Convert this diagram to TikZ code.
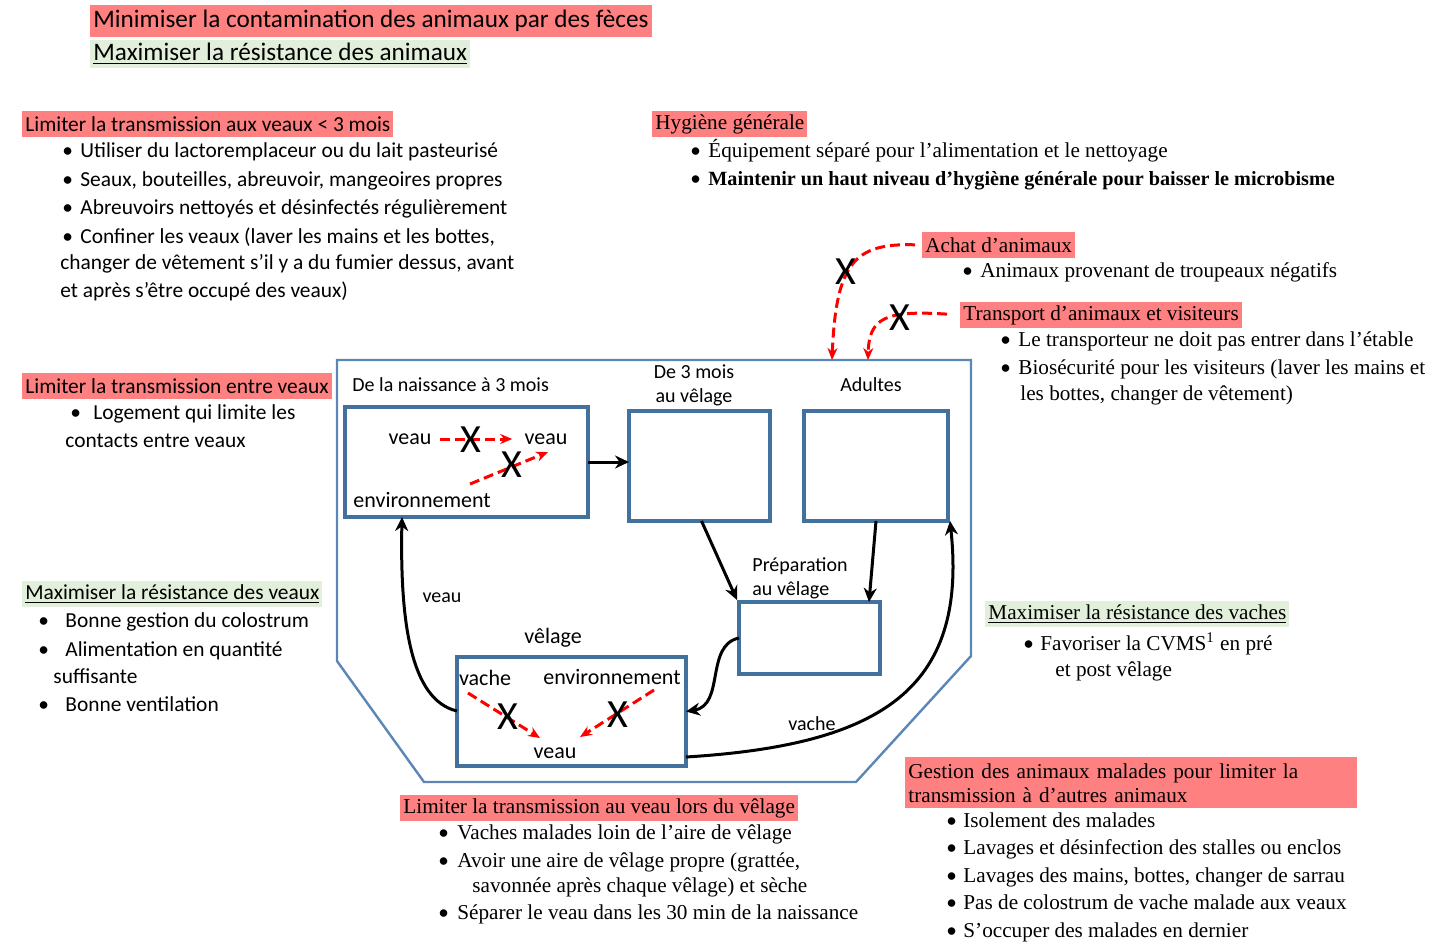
\documentclass[tikz,border=0pt]{standalone}
\usepackage{fontspec}
\setmainfont{Carlito}
\newfontfamily\tms{Liberation Serif}
\usetikzlibrary{positioning, arrows.meta, calc}

\definecolor{hlred}{HTML}{FF8080}
\definecolor{hlgreen}{HTML}{E2EFDA}
\definecolor{stallblue}{HTML}{41719C}
\definecolor{farmblue}{HTML}{5B86B5}

\newcommand\sanstext{\fontsize{10.7}{13}\selectfont}
\newcommand\seriftext{\tms\fontsize{10.6}{13}\selectfont}
\newcommand\bulletto[1]{\makebox[#1][l]{\rmfamily\textbullet}}

\begin{document}
\begin{tikzpicture}[
    x=0.5pt, y=-0.5pt,
    redtitle/.style={rectangle, fill=hlred, anchor=west, inner xsep=1.5pt, inner ysep=0pt, minimum height=13pt},
    greentitle/.style={rectangle, fill=hlgreen, anchor=west, inner xsep=1.5pt, inner ysep=0pt, minimum height=13pt},
    item/.style={anchor=base west, inner sep=0pt, font=\sanstext},
    sitem/.style={anchor=base west, inner sep=0pt, font=\seriftext},
    stall/.style={rectangle, draw=stallblue, line width=2pt, anchor=north west, inner sep=0pt, outer sep=0pt},
    lbl/.style={inner sep=1pt, font=\fontsize{10}{12}\selectfont},
    inlbl/.style={inner sep=1pt, font=\fontsize{11}{13}\selectfont},
    cross/.style={inner sep=0pt, font=\fontsize{20}{20}\selectfont},
    arr/.style={-{Stealth[length=7pt, width=6.5pt]}, line width=1.5pt, draw=black},
    redarr/.style={-{Stealth[length=6pt, width=5pt]}, line width=1.5pt, draw=red, dash pattern=on 5pt off 2.5pt}
]
    \useasboundingbox (0,0) rectangle (1434,943);

    % en-tete
    \node[redtitle, font=\fontsize{12.6}{14}\selectfont, minimum height=16pt] (contam) at (90,21) {Minimiser la contamination des animaux par des fèces};
    \node[greentitle, font=\fontsize{12.6}{14}\selectfont, minimum height=14pt] (resist) at (90,54) {\underline{Maximiser la résistance des animaux}};

    % veaux < 3 mois
    \node[redtitle, font=\sanstext] (lim3) at (22,124) {Limiter la transmission aux veaux < 3 mois};
    \foreach \txt [count=\i] in {Utiliser du lactoremplaceur ou du lait pasteurisé, {Seaux, bouteilles, abreuvoir, mangeoires propres}, Abreuvoirs nettoyés et désinfectés régulièrement, {Confiner les veaux (laver les mains et les bottes,}}
        \node[item] (lim3-\i) at (62,128.7+28.7*\i) {\bulletto{9pt}\txt};
    \node[item] (lim3-5) at (60,269) {changer de vêtement s'il y a du fumier dessus, avant};
    \node[item] (lim3-6) at (60,297) {et après s'être occupé des veaux)};

    % entre veaux
    \node[redtitle, font=\sanstext] (limv) at (22,386) {Limiter la transmission entre veaux};
    \node[item] (limv-1) at (70,419) {\bulletto{11.5pt}Logement qui limite les};
    \node[item] (limv-2) at (65,447) {contacts entre veaux};

    % resistance des veaux
    \node[greentitle, font=\sanstext] (resv) at (22,594) {\underline{Maximiser la résistance des veaux}};
    \node[item] (resv-1) at (38,627) {\bulletto{13.5pt}Bonne gestion du colostrum};
    \node[item] (resv-2) at (38,656) {\bulletto{13.5pt}Alimentation en quantité};
    \node[item] (resv-3) at (53,683) {suffisante};
    \node[item] (resv-4) at (38,711) {\bulletto{13.5pt}Bonne ventilation};

    % hygiene
    \node[redtitle, font=\seriftext] (hyg) at (652,124) {Hygiène générale};
    \node[sitem] (hyg-1) at (690,157) {\bulletto{9pt}Équipement séparé pour l’alimentation et le nettoyage};
    \node[sitem] (hyg-2) at (690,185) {\bulletto{9pt}\fontsize{10.1}{13}\selectfont\textbf{Maintenir un haut niveau d’hygiène générale pour baisser le microbisme}};

    % achat
    \node[redtitle, font=\seriftext] (achat) at (922,245) {Achat d’animaux};
    \node[sitem] (achat-1) at (962,277) {\bulletto{9pt}Animaux provenant de troupeaux négatifs};

    % transport
    \node[redtitle, font=\seriftext] (transp) at (960,315) {Transport d’animaux et visiteurs};
    \node[sitem] (transp-1) at (1000,346) {\bulletto{9pt}Le transporteur ne doit pas entrer dans l’étable};
    \node[sitem] (transp-2) at (1000,374) {\bulletto{9pt}Biosécurité pour les visiteurs (laver les mains et};
    \node[sitem] (transp-3) at (1020,400) {les bottes, changer de vêtement)};

    % resistance des vaches
    \node[greentitle, font=\seriftext] (resva) at (985,614) {\underline{Maximiser la résistance des vaches}};
    \node[sitem] (resva-1) at (1023,650) {\bulletto{8.5pt}Favoriser la CVMS\textsuperscript{1} en pré};
    \node[sitem] (resva-2) at (1055,676) {et post vêlage};

    % velage
    \node[redtitle, font=\seriftext] (limvel) at (400,808) {Limiter la transmission au veau lors du vêlage};
    \node[sitem] (limvel-1) at (438,839) {\bulletto{9.5pt}Vaches malades loin de l’aire de vêlage};
    \node[sitem] (limvel-2) at (438,867) {\bulletto{9.5pt}Avoir une aire de vêlage propre (grattée,};
    \node[sitem] (limvel-3) at (472,892) {savonnée après chaque vêlage) et sèche};
    \node[sitem] (limvel-4) at (438,919) {\bulletto{9.5pt}Séparer le veau dans les 30 min de la naissance};

    % malades
    \node[rectangle, fill=hlred, anchor=north west, inner xsep=1.5pt, inner ysep=0pt, text width=223pt, minimum height=25.5pt, align=left, font=\tms\fontsize{10.6}{12}\selectfont] (malad) at (905,757) {Gestion des animaux malades pour limiter la\\transmission à d’autres animaux};
    \foreach \txt [count=\i] in {Isolement des malades, Lavages et désinfection des stalles ou enclos, {Lavages des mains, bottes, changer de sarrau}, Pas de colostrum de vache malade aux veaux, S’occuper des malades en dernier}
        \node[sitem] (malad-\i) at (946,799.5+27.5*\i) {\bulletto{8.5pt}\txt};

    % elevage
    \draw[farmblue, line width=1.2pt] (337,360) -- (971,360) -- (971,656) -- (856,782) -- (424,782) -- (337,661) -- cycle;
    \coordinate (inA) at (832,360);
    \coordinate (inB) at (868,360);

    \node[stall, minimum width=121.5pt, minimum height=55pt] (naiss) at (345,407) {};
    \node[stall, minimum width=70.5pt, minimum height=55pt] (genis) at (629,411) {};
    \node[stall, minimum width=72pt, minimum height=55pt] (adult) at (804,411) {};
    \node[stall, minimum width=70.5pt, minimum height=36pt] (prep) at (739,602) {};
    \node[stall, minimum width=114.5pt, minimum height=54.5pt] (velag) at (457,657) {};

    \node[lbl, anchor=west] (naissL) at (350,385) {De la naissance à 3 mois};
    \node[lbl, align=center] (genisL) at (694,385) {De 3 mois\\au vêlage};
    \node[lbl] (adultL) at (871,385) {Adultes};
    \node[lbl, anchor=west, align=left] (prepL) at (750,578) {Préparation\\au vêlage};
    \node[inlbl] (velagL) at (553,638) {vêlage};

    % dans la case des veaux
    \node[inlbl] (veau1) at (410,439) {veau};
    \node[inlbl] (veau2) at (546,439) {veau};
    \node[inlbl, anchor=west] (envA) at (351,500) {environnement};
    \coordinate (envAo) at (470,484);
    \coordinate (veau2i) at (548,452);
    \draw[redarr, shorten <=3pt, shorten >=5pt] (veau1.east) -- (veau2.west);
    \draw[redarr] (envAo) -- (veau2i);
    \node[cross] (xa) at (471,440) {X};
    \node[cross] (xb) at (512,465) {X};

    % dans la case de velage
    \node[inlbl] (vache) at (485,678) {vache};
    \node[inlbl] (envE) at (612,677) {environnement};
    \node[inlbl] (veau3) at (555,753) {veau};
    \coordinate (vacheo) at (468,693);
    \coordinate (envEo) at (654,690);
    \coordinate (veau3a) at (540,738);
    \coordinate (veau3b) at (580,737);
    \draw[redarr] (vacheo) -- (veau3a);
    \draw[redarr] (envEo) -- (veau3b);
    \node[cross] (xc) at (508,717) {X};
    \node[cross] (xd) at (618,715) {X};

    % entrees
    \draw[redarr, shorten <=3.5pt] (achat.west) .. controls (855,243) and (836,262) .. (inA);
    \draw[redarr, shorten <=6.5pt] (transp.west) .. controls (885,310) and (869,318) .. (inB);
    \node[cross] (xe) at (846,272) {X};
    \node[cross] (xf) at (900,318) {X};

    % flux
    \draw[arr] (naiss.east) -- (naiss.east -| genis.west);
    \draw[arr] ([xshift=1pt]genis.south) -- ([xshift=-1pt, yshift=1pt]prep.north west);
    \draw[arr] (adult.south) -- ([xshift=-5.5pt]prep.north east);
    \draw[arr] (prep.west) .. controls (705,645) and (725,705) .. (velag.east);
    \draw[arr] ([yshift=-27pt]velag.north west) .. controls (410,700) and (400,620) .. ([xshift=28.5pt]naiss.south west);
    \draw[arr] ([yshift=4.5pt]velag.south east) .. controls (880,745) and (968,690) .. ([xshift=1pt]adult.south east);
    \node[lbl] (veauL) at (442,598) {veau};
    \node[lbl] (vacheL) at (812,724) {vache};
\end{tikzpicture}
\end{document}
